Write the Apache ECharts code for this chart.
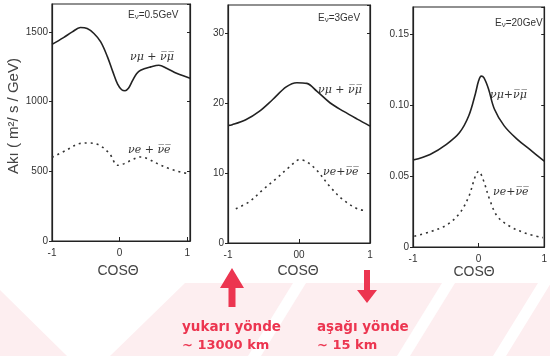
<!DOCTYPE html>
<html><head><meta charset="utf-8">
<script src="https://cdn.jsdelivr.net/npm/echarts@6.0.0/dist/echarts.min.js"></script>
<style>html,body{margin:0;padding:0;background:#fff}#c{width:550px;height:356px}</style>
</head><body><div id="c"></div>
<script>
// Panel 1: E = 0.5 GeV
const cosMu1 = [-1, -0.83, -0.7, -0.58, -0.48, -0.38, -0.28, -0.18, -0.1, -0.03, 0.03, 0.08, 0.13, 0.19, 0.25, 0.31, 0.46, 0.58, 0.7, 0.85, 1.04];
const numu1  = [1410, 1459, 1500, 1531, 1524, 1488, 1428, 1321, 1213, 1125, 1085, 1078, 1095, 1150, 1200, 1225, 1249, 1261, 1237, 1201, 1168];
const cosE1  = [-1, -0.79, -0.59, -0.45, -0.3, -0.15, -0.03, 0.07, 0.19, 0.31, 0.44, 0.58, 0.73, 0.9, 1.04];
const nue1   = [600, 651, 699, 703, 687, 627, 543, 555, 584, 603, 584, 550, 519, 495, 480];
// Panel 2: E = 3 GeV
const cosMu2 = [-1, -0.94, -0.75, -0.56, -0.37, -0.18, -0.03, 0.11, 0.25, 0.44, 0.63, 0.82, 1.0];
const numu2  = [16.8, 16.9, 17.6, 18.8, 20.5, 22.3, 22.9, 22.8, 21.7, 20.0, 18.8, 17.7, 16.7];
const cosE2  = [-0.89, -0.7, -0.51, -0.32, -0.13, 0.01, 0.11, 0.25, 0.44, 0.63, 0.82, 0.94];
const nue2   = [4.9, 5.9, 7.6, 9.2, 10.9, 11.9, 11.6, 10.4, 8.0, 6.1, 4.9, 4.6];
// Panel 3: E = 20 GeV
const cosMu3 = [-1, -0.74, -0.49, -0.29, -0.15, -0.05, 0.0, 0.04, 0.08, 0.15, 0.24, 0.39, 0.59, 0.78, 1.0];
const numu3  = [0.0612, 0.0652, 0.0723, 0.0806, 0.0924, 0.1078, 0.1170, 0.1203, 0.1192, 0.1114, 0.0972, 0.0853, 0.0758, 0.0687, 0.0604];
const cosE3  = [-0.98, -0.74, -0.49, -0.29, -0.15, -0.05, 0.0, 0.07, 0.17, 0.29, 0.49, 0.73, 0.98];
const nue3   = [0.0076, 0.0107, 0.0154, 0.0237, 0.0355, 0.0498, 0.0533, 0.0474, 0.0332, 0.0213, 0.0142, 0.0095, 0.0066];

const xTicks2 = {'-1': '-1', '0': '00', '1': '1'};
const pairs = (xs, ys) => xs.map((x, i) => [x, ys[i]]);

const chart = echarts.init(document.getElementById('c'));
const lab = {color: '#333', fontSize: 10, fontFamily: 'Liberation Sans'};
function xA(i, max, fmt) {
  return {gridIndex: i, type: 'value', min: -1, max: max, interval: 1,
    axisLine: {show: true, onZero: false, lineStyle: {color: '#222', width: 1.2}},
    axisTick: {show: true, inside: true, length: 4, lineStyle: {color: '#222'}},
    axisLabel: Object.assign({margin: 7, showMaxLabel: max === 1, formatter: fmt || (v => String(v))}, lab),
    splitLine: {show: false}};
}
function yA(i, max, interval, fmt, right) {
  return {gridIndex: i, type: 'value', min: 0, max: max, interval: interval, position: right ? 'right' : 'left',
    axisLine: {show: true, onZero: false, lineStyle: {color: '#222', width: 1.2}},
    axisTick: {show: true, inside: !!right, length: 3, lineStyle: {color: '#222'}},
    axisLabel: Object.assign({show: !right, margin: 4, showMaxLabel: false, formatter: fmt}, lab),
    splitLine: {show: false}};
}
const f3 = v => v === 0 ? '0' : v.toFixed(2);
const solid = {color: '#222', width: 1.6};
const dotted = {color: '#333', width: 1.6, type: [2, 4]};
function s(xi, yi, data, style) {
  return {type: 'line', xAxisIndex: xi, yAxisIndex: yi, data: data, smooth: 0.35, symbol: 'none', lineStyle: style, silent: true};
}
const red = '#ec3550';
function txt(x, y, text, extra) {
  return {type: 'text', x: x, y: y, style: Object.assign({text: text, fill: '#333', font: 'italic 11px "DejaVu Serif"', align: 'left', verticalAlign: 'middle'}, extra || {})};
}
function eLab(x, y, val) {
  return {type: 'text', x: x, y: y, style: {text: '{a|E}{b|ν}{a|=' + val + '}', align: 'left', verticalAlign: 'middle',
    rich: {a: {fontSize: 10, fontFamily: 'Liberation Sans', fill: '#333'}, b: {fontSize: 8, fontFamily: 'Liberation Sans', fill: '#333', padding: [4, 0, 0, 0]}}}};
}
const pink = '#fdeef0';
chart.setOption({
  animation: false,
  grid: [
    {left: 52, top: 4, width: 138, height: 237, show: true, borderColor: '#222', borderWidth: 1.2},
    {left: 228, top: 5, width: 142, height: 238, show: true, borderColor: '#222', borderWidth: 1.2},
    {left: 413, top: 7, width: 135, height: 240, show: true, borderColor: '#222', borderWidth: 1.2}
  ],
  xAxis: [xA(0, 1.04), xA(1, 1, v => xTicks2[String(v)]), xA(2, 1)],
  yAxis: [
    yA(0, 1700, 500, v => String(v)), yA(1, 34, 10, v => String(v)), yA(2, 0.169, 0.05, f3),
    yA(0, 1700, 500, null, true), yA(1, 34, 10, null, true), yA(2, 0.169, 0.05, null, true)
  ],
  series: [
    s(0, 0, pairs(cosMu1, numu1), solid), s(0, 0, pairs(cosE1, nue1), dotted),
    s(1, 1, pairs(cosMu2, numu2), solid), s(1, 1, pairs(cosE2, nue2), dotted),
    s(2, 2, pairs(cosMu3, numu3), solid), s(2, 2, pairs(cosE3, nue3), dotted)
  ],
  graphic: [
    // background stripes
    {type: 'polygon', z: -10, shape: {points: [[0, 290], [0, 356], [67, 356]]}, style: {fill: pink}},
    {type: 'polygon', z: -10, shape: {points: [[185, 283], [550, 283], [550, 356], [110, 356]]}, style: {fill: pink}},
    {type: 'polygon', z: -9, shape: {points: [[293, 283], [306, 283], [261, 356], [248, 356]]}, style: {fill: '#fff'}},
    {type: 'polygon', z: -9, shape: {points: [[442, 283], [455, 283], [410, 356], [397, 356]]}, style: {fill: '#fff'}},
    {type: 'polygon', z: -9, shape: {points: [[538, 283], [551, 283], [506, 356], [493, 356]]}, style: {fill: '#fff'}},
    // y title
    {type: 'text', x: 14, y: 116, rotation: Math.PI / 2, style: {text: 'Akı ( m²/ s / GeV)', fill: '#444', font: '15px "Liberation Sans"', align: 'center', verticalAlign: 'middle'}},
    // x titles
    {type: 'text', x: 118, y: 271, style: {text: 'COSΘ', fill: '#444', font: '14px "Liberation Sans"', align: 'center', verticalAlign: 'middle'}},
    {type: 'text', x: 298, y: 271, style: {text: 'COSΘ', fill: '#444', font: '14px "Liberation Sans"', align: 'center', verticalAlign: 'middle'}},
    {type: 'text', x: 474, y: 272, style: {text: 'COSΘ', fill: '#444', font: '14px "Liberation Sans"', align: 'center', verticalAlign: 'middle'}},
    // energy labels
    eLab(128, 15, '0.5GeV'), eLab(318, 18, '3GeV'), eLab(495, 23, '20GeV'),
    // curve labels
    txt(130, 57, 'νμ + ν̅μ̅'), txt(128, 150, 'νe + ν̅e̅'),
    txt(318, 90, 'νμ + ν̅μ̅'), txt(323, 172, 'νe+ν̅e̅'),
    txt(490, 95, 'νμ+ν̅μ̅'), txt(493, 192, 'νe+ν̅e̅'),
    // arrows
    {type: 'polygon', shape: {points: [[232, 268], [244, 288], [235.5, 288], [235.5, 307], [228.5, 307], [228.5, 288], [220, 288]]}, style: {fill: red}},
    {type: 'polygon', shape: {points: [[364, 270], [370, 270], [370, 290], [377, 290], [367, 303], [357, 290], [364, 290]]}, style: {fill: red}},
    // red annotations
    {type: 'text', x: 182, y: 327, style: {text: 'yukarı yönde', fill: red, font: 'bold 13.5px "DejaVu Sans"', verticalAlign: 'middle'}},
    {type: 'text', x: 182, y: 346, style: {text: '~ 13000 km', fill: red, font: 'bold 13px "DejaVu Sans"', verticalAlign: 'middle'}},
    {type: 'text', x: 317, y: 327, style: {text: 'aşağı yönde', fill: red, font: 'bold 13.5px "DejaVu Sans"', verticalAlign: 'middle'}},
    {type: 'text', x: 317, y: 346, style: {text: '~ 15 km', fill: red, font: 'bold 13px "DejaVu Sans"', verticalAlign: 'middle'}}
  ]
});
</script></body></html>
